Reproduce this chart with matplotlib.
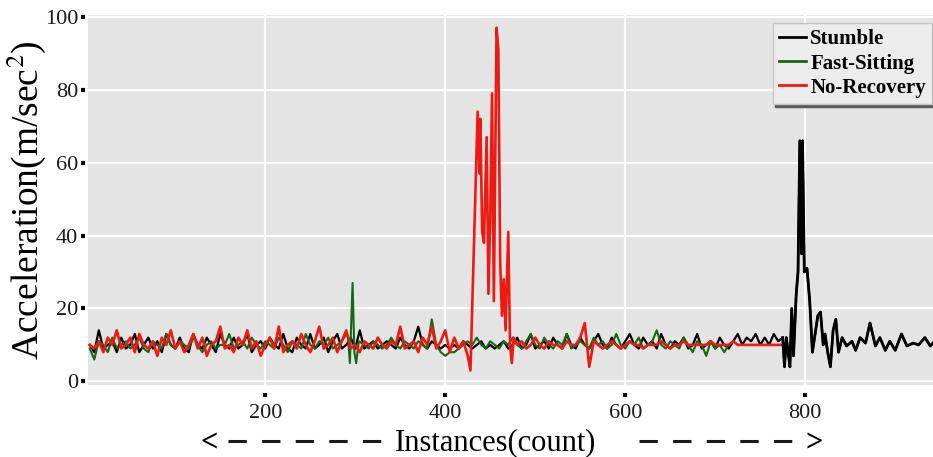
import numpy as np
import matplotlib
matplotlib.use("Agg")
import matplotlib.pyplot as plt
from matplotlib.lines import Line2D

plt.rcParams['font.family'] = ['Liberation Serif', 'DejaVu Serif']
plt.rcParams['mathtext.fontset'] = 'stix'

# ---- data (instance index vs acceleration) ----
# No-Recovery (red)
red_base1 = [10, 9, 11, 8, 12, 10, 14, 9, 10, 12,
             8, 13, 10, 9, 11, 7, 12, 10, 14, 9,
             11, 8, 10, 13, 9, 12, 7, 10, 11, 15,
             9, 10, 8, 12, 10, 14, 9, 11, 7, 10,
             12, 9, 15, 8, 10, 11, 9, 13, 10, 8,
             11, 15, 9, 10, 12, 8, 11, 14, 9, 10,
             8, 11, 10, 9, 12, 10, 9, 11, 10, 15,
             9, 10, 11, 8, 12, 10, 15, 9, 11, 14,
             8, 12, 9, 11, 7]                       # x = 5 .. 425
red_spike_x = [428, 436, 438, 439, 441, 443, 446, 448, 450, 452, 454, 457, 459,
               461, 463, 465, 467, 470, 472, 474, 476]
red_spike_y = [3, 74, 57, 72, 41, 38, 67, 24, 45, 79, 22, 97, 91,
               33, 18, 28, 14, 41, 10, 5, 12]
red_base2 = [10, 11, 9, 10, 12, 10, 9, 11, 10, 10,
             9, 11, 10, 10, 12, 16, 4, 11, 10, 9,
             10, 11, 10, 9, 10, 11, 10, 10, 9, 10,
             10, 10, 11, 10, 9, 10, 10, 11, 10, 10,
             10, 10, 10, 11, 10, 10, 10, 10, 11, 10,
             10, 10, 10, 10, 10, 10, 10, 10, 10, 10, 10]  # x = 480 .. 780

# Fast-Sitting (green)
green_base1 = [9, 6, 11, 10, 8, 12, 9, 10, 11, 9,
               10, 12, 9, 8, 11, 10, 9, 13, 10, 9,
               11, 10, 9, 12, 10, 8, 10, 11, 9, 10,
               10, 13, 9, 10, 11, 9, 12, 10, 9, 11,
               10, 9, 12, 10, 8, 11, 10, 9, 13, 10,
               9, 11, 10, 12, 9, 10, 11, 13]          # x = 5 .. 290
green_spike_x = [292, 294, 297, 299, 301, 304]
green_spike_y = [12, 5, 27, 8, 5, 11]
green_base2 = [10, 9, 11, 10, 9, 10, 12, 10, 9, 11,
               10, 9, 11, 10, 9, 17, 10, 8, 7, 8,
               8, 9, 10, 11, 10, 12, 10, 9, 11, 10,
               9, 11, 10, 12, 10, 9, 11, 13, 10, 9,
               12, 10, 9, 11, 10, 13, 9, 10, 11, 10,
               9, 12, 10, 11, 9, 10, 13, 10, 9, 11,
               10, 12, 9, 10, 11, 14, 10, 9, 11, 10,
               9, 12, 10, 8, 11, 10, 7, 11, 9, 10,
               8, 10]                                  # x = 310 .. 715

# Stumble (black)
black_base = [10, 8, 14, 9, 10, 11, 8, 12, 9, 10,
              13, 8, 10, 12, 9, 11, 8, 13, 10, 9,
              12, 9, 8, 13, 10, 9, 12, 10, 8, 13,
              10, 9, 12, 9, 10, 13, 8, 10, 11, 9,
              12, 10, 9, 13, 9, 8, 12, 10, 9, 13,
              9, 10, 12, 8, 11, 13, 9, 10, 12, 9,
              14, 9, 10, 11, 9, 10, 11, 10, 9, 12,
              10, 9, 11, 15, 10, 9, 11, 10, 9, 10,
              9, 10, 9, 11, 10, 9, 10, 11, 9, 10,
              9, 10, 11, 9, 10, 12, 9, 10, 13, 9,
              10, 11, 9, 12, 10, 9, 13, 10, 9, 12,
              10, 9, 11, 13, 10, 9, 12, 10, 9, 11,
              13, 10, 9, 12, 10, 11, 9, 13, 10, 9,
              11, 10, 12, 9, 10, 13, 9, 10, 11, 9,
              12, 10, 9, 11, 13, 10, 12, 11, 13, 10,
              12, 10, 13, 11, 12]                      # x = 5 .. 775
black_tail_x = [777, 779, 781, 783, 785, 787, 790, 792, 794, 796, 797,
                799, 802, 805, 808, 811, 814, 817, 820, 822, 825,
                828, 831, 834, 837, 841, 846, 852, 856, 861, 867,
                872, 878, 883, 889, 894, 900, 907, 913, 920, 926,
                933, 939, 942]
black_tail_y = [4, 12, 8, 4, 20, 7, 24, 30, 66, 35, 66,
                30, 31, 22, 8, 13, 18, 19, 10, 13, 8,
                4, 14, 17, 8, 12, 9.7, 11, 8.5, 12, 10.5,
                16, 9.7, 12, 8.5, 11, 8.5, 13, 9.7, 10.5, 10,
                12, 9.7, 10.5]

yticks = [0, 20, 40, 60, 80, 100]
xticks = [200, 400, 600, 800]


def series(base1, sx, sy, base2, start1, start2):
    x1 = start1 + 5 * np.arange(len(base1))
    parts_x = [x1, np.array(sx)]
    parts_y = [np.array(base1), np.array(sy)]
    if base2 is not None:
        parts_x.append(start2 + 5 * np.arange(len(base2)))
        parts_y.append(np.array(base2))
    return np.concatenate(parts_x), np.concatenate(parts_y)


bx, by = series(black_base, black_tail_x, black_tail_y, None, 5, 0)
gx, gy = series(green_base1, green_spike_x, green_spike_y, green_base2, 5, 310)
rx, ry = series(red_base1, red_spike_x, red_spike_y, red_base2, 5, 480)

W, H = 933, 457
fig = plt.figure(figsize=(W / 100, H / 100), dpi=100)
ax = fig.add_axes([88 / W, 72 / H, 845 / W, 370 / H])
ax.set_facecolor('#e4e4e4')
for s in ax.spines.values():
    s.set_visible(False)
ax.spines['bottom'].set_position(('outward', 6))
ax.spines['left'].set_position(('outward', 2))
ax.grid(True, color='white', linewidth=1.6)
ax.set_axisbelow(True)

ax.plot(bx, by, color='black', lw=1.6, label='Stumble')
ax.plot(gx, gy, color='#146814', lw=1.5, label='Fast-Sitting')
ax.plot(rx, ry, color='#ee1a12', lw=1.9, label='No-Recovery')
ax.plot(bx[bx > 770], by[bx > 770], color='black', lw=2.0)

ax.set_xlim(3, 942)
ax.set_ylim(-1, 100.5)
ax.set_xticks(xticks)
ax.set_yticks(yticks)
ax.tick_params(axis='both', length=3, width=3, color='black',
               labelsize=16, labelcolor='#1a1a1a', pad=2)
ax.tick_params(axis='x', pad=5)

ax.set_ylabel(r'Acceleration(m/sec$^2$)', fontsize=27)
ax.yaxis.set_label_coords(-0.047, 0.5)

# x label with dashed arrows on both sides
ylab = 1 - 443 / H
fig.text(496 / W, ylab, 'Instances(count)', fontsize=22, ha='center', va='center')
fig.text(201 / W, ylab, '<', fontsize=22, fontweight='bold', ha='left', va='center')
fig.text(823 / W, ylab, '>', fontsize=22, fontweight='bold', ha='right', va='center')
for x0, x1 in [(228, 381), (639, 792)]:
    fig.add_artist(Line2D([x0 / W, x1 / W], [ylab + 0.004, ylab + 0.004],
                          transform=fig.transFigure, color='#1a1a1a', lw=2.2,
                          linestyle=(0, (6.0, 5.0)), dash_capstyle='butt'))

leg = ax.legend(loc='upper right', bbox_to_anchor=(0.999, 0.978), borderaxespad=0,
                prop={'weight': 'bold', 'size': 15}, handlelength=1.3,
                handletextpad=0.2, labelspacing=0.2, borderpad=0.3,
                fancybox=False, facecolor='#ececec', edgecolor='#c4c4c4',
                framealpha=1, shadow={'color': '0.35', 'alpha': 1})
for h in leg.get_lines():
    h.set_linewidth(2)

fig.savefig('out.png', dpi=100)
